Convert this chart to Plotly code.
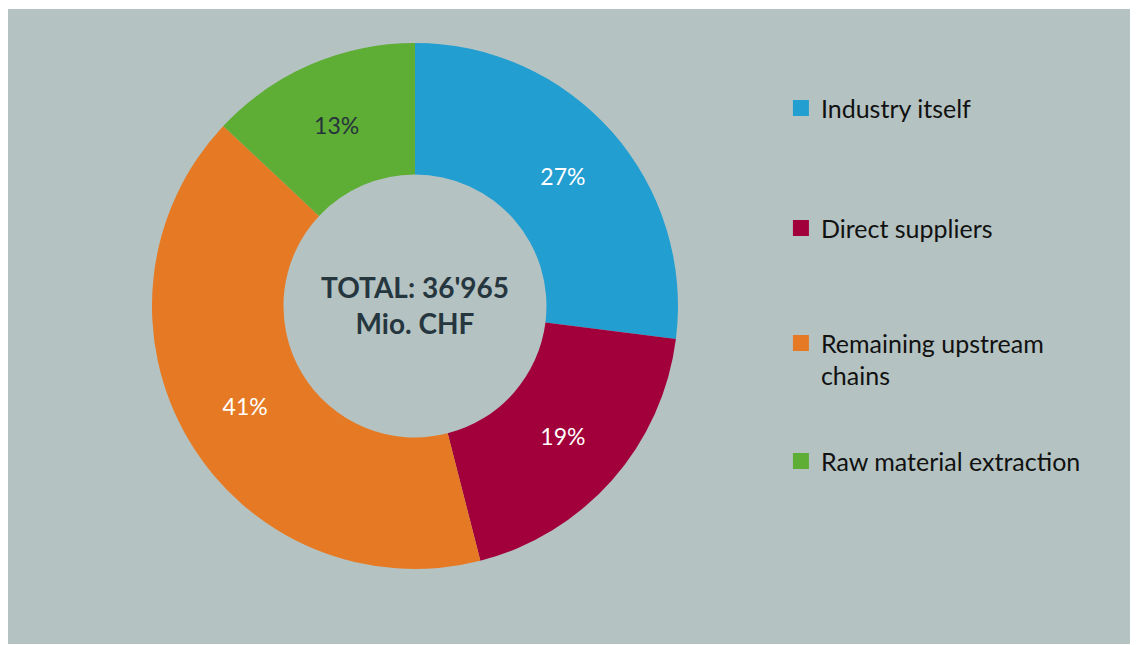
"""Donut chart: value added by supply-chain stage."""

import plotly.graph_objects as go

labels = ["Industry itself", "Direct suppliers", "Remaining upstream chains", "Raw material extraction"]
legend_text = ["Industry itself", "Direct suppliers", "Remaining upstream<br>chains", "Raw material extraction"]
shares = [27, 19, 41, 13]
colors = ["#239ED1", "#A1003B", "#E67A24", "#5EAD35"]
text_colors = ["#FFFFFF", "#FFFFFF", "#FFFFFF", "#26333B"]
total_text = "TOTAL: 36'965<br>Mio. CHF"

BG = "#B4C3C2"
FONT = "Lato"

fig = go.Figure()
fig.add_trace(
    go.Pie(
        labels=labels,
        values=shares,
        hole=0.5,
        sort=False,
        direction="clockwise",
        rotation=0,
        marker={"colors": colors, "line": {"width": 0}},
        texttemplate="%{value}%",
        textposition="inside",
        insidetextorientation="horizontal",
        textfont={"family": FONT, "size": 23, "color": text_colors},
        showlegend=False,
        hoverinfo="label+percent",
        domain={"x": [0.1274, 0.5929], "y": [0.1181, 0.9465]},
    )
)

# legend entries, one legend each so they can be spread like the original
legend_y = [0.8798, 0.6909, 0.5098, 0.3239]
for i, (name, col) in enumerate(zip(legend_text, colors)):
    key = "legend" if i == 0 else f"legend{i + 1}"
    fig.add_trace(
        go.Scatter(
            x=[None], y=[None], mode="markers", name=name,
            marker={"symbol": "square", "size": 16, "color": col},
            legend=key, showlegend=True,
        )
    )
    fig.update_layout({
        key: {
            "x": 0.684, "xanchor": "left",
            "y": legend_y[i], "yanchor": "top",
            "bgcolor": "rgba(0,0,0,0)",
            "font": {"family": FONT, "size": 25, "color": "#111111"},
            "valign": "top",
            "itemsizing": "trace",
        }
    })

fig.add_annotation(
    x=0.3602, y=0.534, xref="paper", yref="paper",
    text=f"<b>{total_text}</b>", showarrow=False,
    font={"family": FONT, "size": 28, "color": "#26363F"},
    align="center",
)

fig.add_shape(
    type="rect", xref="paper", yref="paper",
    x0=0, x1=1, y0=0, y1=1,
    fillcolor=BG, line={"width": 0}, layer="below",
)

fig.update_layout(
    width=1130, height=636,
    margin={"l": 0, "r": 0, "t": 1, "b": 0},
    paper_bgcolor="#FFFFFF",
    plot_bgcolor=BG,
    xaxis={"visible": False},
    yaxis={"visible": False},
)

fig.write_html("out.html")
